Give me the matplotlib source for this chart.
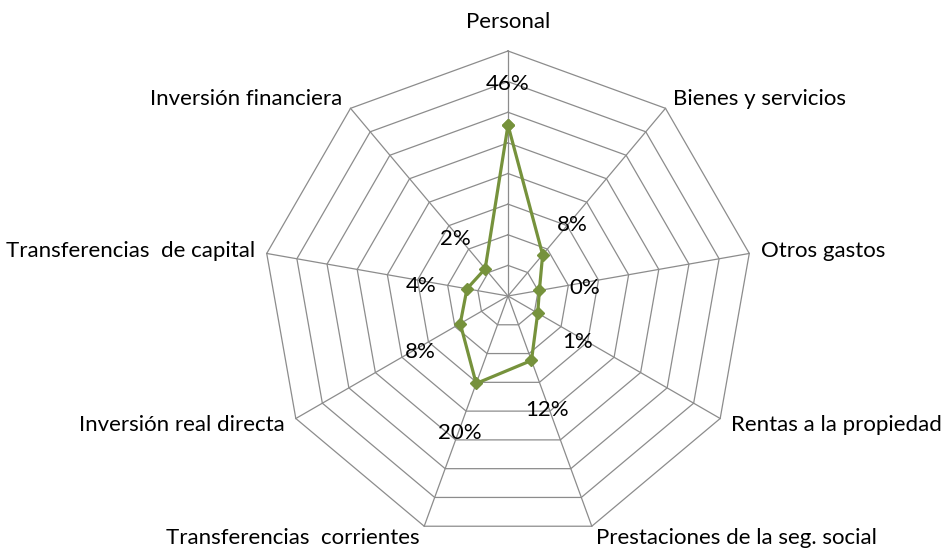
import numpy as np
import matplotlib
matplotlib.use("Agg")
from matplotlib import pyplot as plt

categories = ["Personal", "Bienes y servicios", "Otros gastos", "Rentas a la propiedad",
              "Prestaciones de la seg. social", "Transferencias  corrientes",
              "Inversión real directa", "Transferencias  de capital", "Inversión financiera"]
values = [45.8, 7.6, 0.4, 1.2, 12.4, 20.4, 8.0, 3.6, 1.6]
value_labels = ["46%", "8%", "0%", "1%", "12%", "20%", "8%", "4%", "2%"]
axis_min, axis_max, axis_step = -10, 70, 10

plt.rcParams["font.family"] = ["Lato", "DejaVu Sans"]

W, H = 948, 548
cx, cy, R = 508, 296, 245
fig = plt.figure(figsize=(W / 100, H / 100), dpi=100)
ax = fig.add_axes([0, 0, 1, 1])
ax.set_xlim(-cx / R, (W - cx) / R)
ax.set_ylim(-(H - cy) / R, cy / R)
ax.set_aspect("equal")
ax.set_axis_off()

n = len(categories)
theta = np.arange(n) * 2 * np.pi / n


def to_xy(r, t):
    return r * np.sin(t), r * np.cos(t)


def norm(v):
    return (np.asarray(v) - axis_min) / (axis_max - axis_min)


grid_col = "#8c8c8c"
tc = np.append(theta, theta[0])
for lev in np.arange(axis_min + axis_step, axis_max + axis_step / 2, axis_step):
    x, y = to_xy(norm(lev), tc)
    ax.plot(x, y, color=grid_col, lw=0.9, zorder=1)
for t in theta:
    x, y = to_xy(np.array([0, 1]), t)
    ax.plot(x, y, color=grid_col, lw=0.9, zorder=1)

# series
rv = norm(values)
x, y = to_xy(np.append(rv, rv[0]), tc)
ax.plot(x, y, color="#76923C", lw=2.3, marker="D", markersize=6, zorder=3)

# value labels
for r, t, lab in zip(rv, theta, value_labels):
    lx, ly = to_xy(r + 0.19, t)
    ax.annotate(lab, (lx, ly), xytext=(0, -4), textcoords="offset points",
                fontsize=16, ha="center", va="center", color="black", zorder=4)

# category labels
for t, cat in zip(theta, categories):
    s = np.sin(t)
    if abs(s) < 1e-6:
        lx, ly = to_xy(1.12, t)
        ha = "center"
    else:
        lx, ly = to_xy(1.05, t)
        ha = "left" if s > 0 else "right"
    ax.text(lx, ly, cat, fontsize=16, ha=ha, va="center", color="black")

fig.savefig("out.png", dpi=100)
